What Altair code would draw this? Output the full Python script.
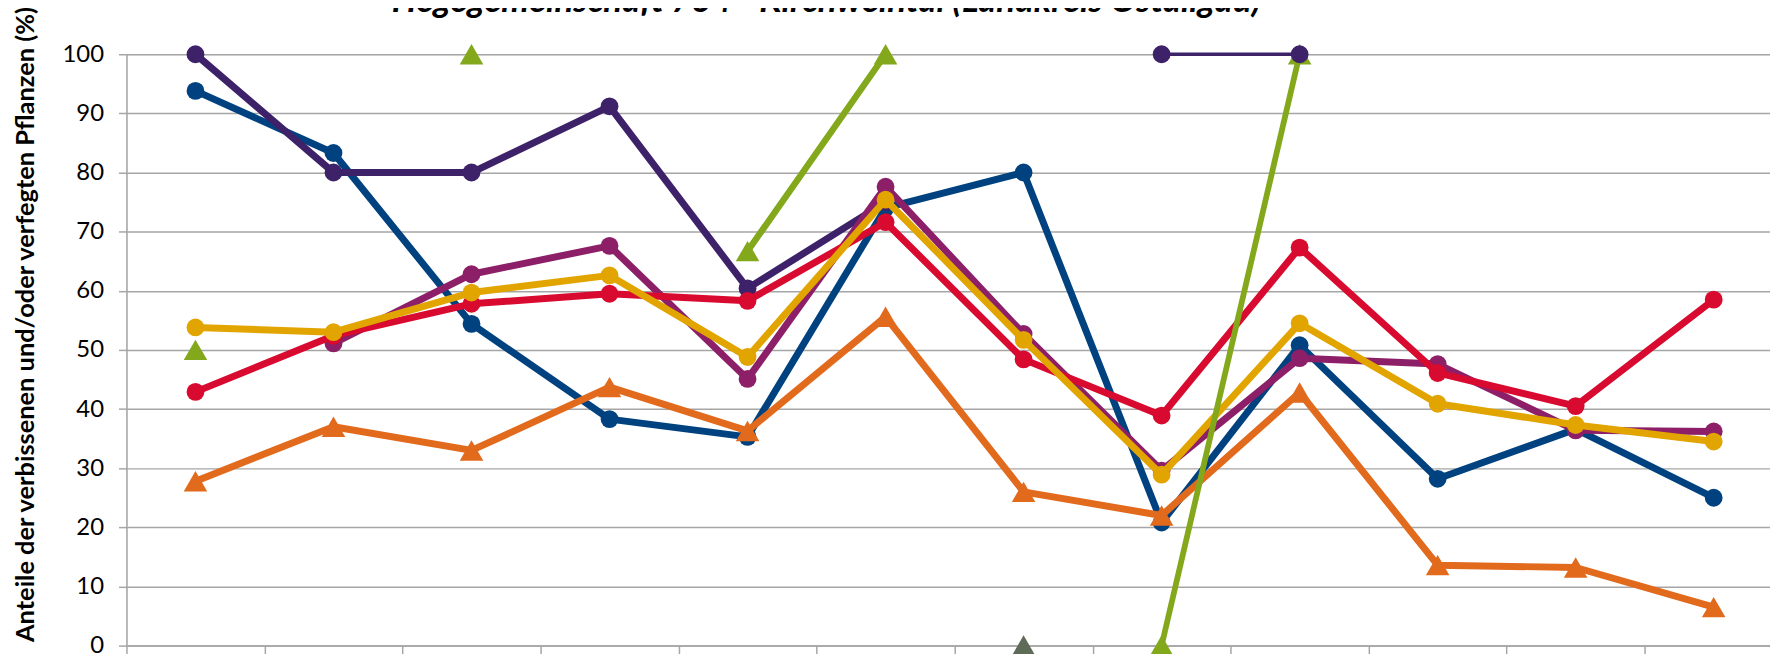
import altair as alt
import pandas as pd

# survey positions (x categories; their labels are cut off in the reference)
aufnahme = [1, 2, 3, 4, 5, 6, 7, 8, 9, 10, 11, 12]

# series values in percent (None = no value)
blau = [93.8, 83.3, 54.4, 38.3, 35.3, 74.0, 80.0, 20.8, 50.8, 28.2, 36.6, 25.0]
violett = [100, 80, 80, 91.2, 60.4, 75.0, None, None, None, None, None, None]
magenta = [None, 51.1, 62.8, 67.6, 45.1, 77.6, 52.7, 29.6, 48.6, 47.6, 36.4, 36.2]
rot = [42.9, 52.4, 57.8, 59.5, 58.3, 71.6, 48.4, 38.9, 67.3, 46.1, 40.5, 58.5]
gelb = [53.8, 53.0, 59.7, 62.6, 48.8, 75.4, 51.7, 28.9, 54.5, 40.9, 37.3, 34.5]
orange = [27.8, 37.0, 33.0, 43.7, 36.3, 55.6, 26.0, 22.0, 42.8, 13.6, 13.2, 6.5]
gruen = [50, None, 100, None, 66.7, 100, None, None, None, None, None, None]
gruen2 = [None, None, None, None, None, None, None, 0, 100, None, None, None]
grau = [None, None, None, None, None, None, 0, None, None, None, None, None]
violett2 = [None, None, None, None, None, None, None, 100, 100, None, None, None]

serien = [
    ("blau", blau), ("violett", violett), ("magenta", magenta), ("rot", rot),
    ("gelb", gelb), ("orange", orange), ("gruen", gruen), ("gruen2", gruen2),
    ("grau", grau), ("violett2", violett2),
]

CIRC = 320
TRI = 560
W = 7
stil = {
    "blau": dict(color="#00427f", width=W, shape="circle", size=CIRC),
    "violett": dict(color="#3d2169", width=W, shape="circle", size=CIRC),
    "magenta": dict(color="#8c1f67", width=W, shape="circle", size=CIRC),
    "rot": dict(color="#d90a2f", width=W, shape="circle", size=CIRC),
    "gelb": dict(color="#e2a500", width=W, shape="circle", size=CIRC),
    "orange": dict(color="#e26a1c", width=W, shape="triangle-up", size=TRI),
    "gruen": dict(color="#83a81c", width=6.5, shape="triangle-up", size=TRI),
    "gruen2": dict(color="#83a81c", width=5.8, shape="triangle-up", size=TRI),
    "grau": dict(color="#5e6b57", width=6.5, shape="triangle-up", size=TRI),
    "violett2": dict(color="#3d2169", width=3.5, shape="circle", size=CIRC),
}

TITLE = "Hegegemeinschaft 734 - Kirchweintal (Landkreis Ostallgäu)"
YTITLE = "Anteile der verbissenen und/oder verfegten Pflanzen (%)"

GRID = "#a6a6a6"

x_enc = alt.X(
    "pos:Q",
    scale=alt.Scale(domain=[0, 11.908], nice=False, zero=False),
    axis=alt.Axis(
        values=list(range(0, 12)), labels=False, grid=False, title=None,
        domainColor=GRID, domainWidth=1.5, tickColor=GRID, tickWidth=1.5, tickSize=8,
    ),
)
y_enc = alt.Y(
    "wert:Q",
    scale=alt.Scale(domain=[0, 100], nice=False),
    axis=alt.Axis(
        values=list(range(0, 101, 10)), title=YTITLE, grid=True,
        gridColor=GRID, gridWidth=1.5, domainColor=GRID, domainWidth=1.5,
        tickColor=GRID, tickWidth=1.5, tickSize=8,
        labelFont="Lato", labelFontSize=24, labelColor="#000000", labelPadding=15,
        titleFont="Lato", titleFontSize=25.5, titleFontWeight="bold", titleColor="#000000",
        titleX=-101, titleY=271, titleBaseline="middle", titleAngle=-90,
    ),
)

layers = []
for name, werte in serien:
    rows = []
    seg = 0
    for a, v in zip(aufnahme, werte):
        if v is None:
            seg += 1
            continue
        rows.append({"aufnahme": a, "wert": v, "seg": seg})
    df = pd.DataFrame(rows)
    s = stil[name]
    base = alt.Chart(df).transform_calculate(pos="datum.aufnahme - 0.5")
    line = base.mark_line(
        color=s["color"], strokeWidth=s["width"], strokeJoin="round", strokeCap="round"
    ).encode(x=x_enc, y=y_enc, detail="seg:N")
    pts = base.mark_point(
        filled=True, opacity=1, color=s["color"], shape=s["shape"], size=s["size"]
    ).encode(x=x_enc, y=y_enc)
    layers += [line, pts]

# chart title as a text layer (positioned relative to the plot area; cut at the top as in the reference)
titel = alt.Chart(pd.DataFrame({"t": [TITLE]})).mark_text(
    font="Lato", fontSize=35, fontStyle="italic", fontWeight="bold", color="#000000",
    align="center", baseline="alphabetic",
).encode(text="t:N", x=alt.value(703), y=alt.value(-42))
layers.append(titel)

chart = alt.layer(*layers).properties(
    width=1651,
    height=594,
    padding={"left": 119, "top": 45, "right": 0, "bottom": 7},
    autosize=alt.AutoSizeParams(type="none"),
).configure_view(stroke=None).configure(background="#ffffff")

chart.save("out.html", embed_options={"renderer": "svg", "actions": False})
